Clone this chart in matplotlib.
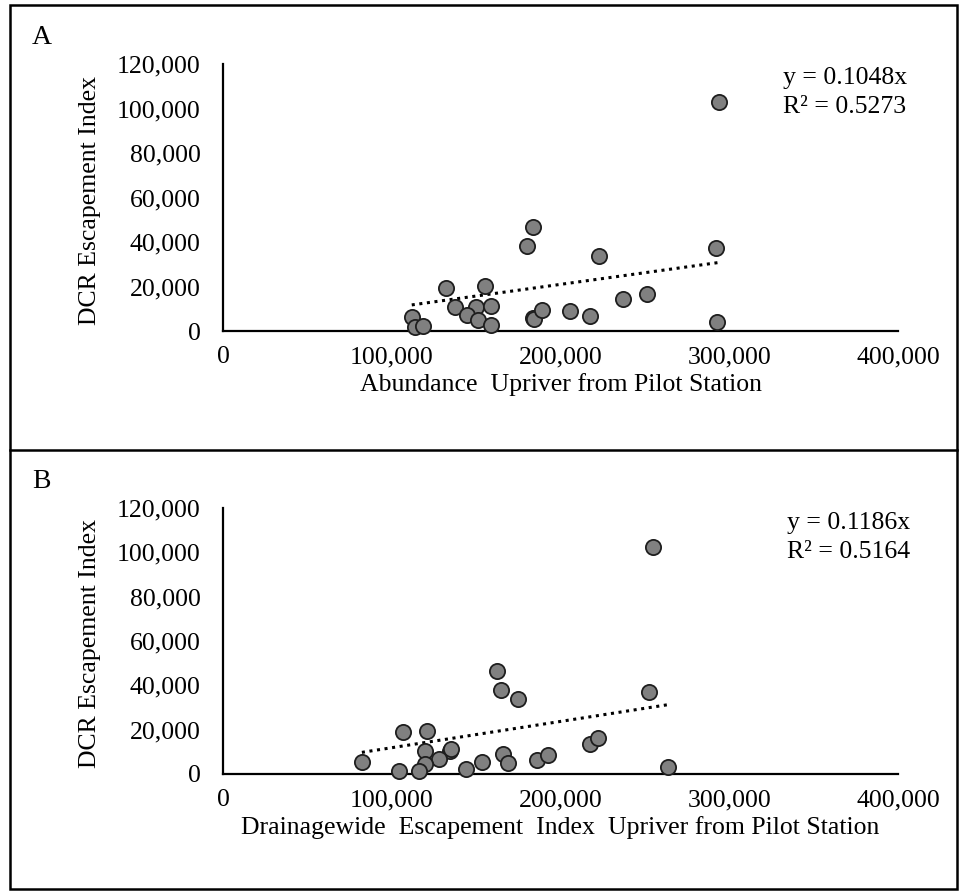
import numpy as np
import matplotlib
matplotlib.use("Agg")
import matplotlib.pyplot as plt
from matplotlib.ticker import FuncFormatter
from matplotlib.patches import Rectangle
from matplotlib.lines import Line2D

# --- datos ---
# Panel A: abundancia aguas arriba de Pilot Station vs indice DCR
abund_x = [183750, 180030, 222920, 132350, 154980, 137670, 149900, 158940,
           144340, 151260, 158940, 111850, 114030, 118760, 183580, 184350,
           188890, 205430, 217600, 236750, 251290, 294060, 291880, 292650]
abund_y = [46880, 38340, 33710, 19330, 20090, 10790, 10920, 11240,
           7060, 4810, 2700, 6290, 1660, 2110, 5980, 5390,
           9570, 8990, 6740, 14250, 16490, 102790, 37170, 3910]
slope_a = 0.1048
r2_a = 0.5273

# Panel B: indice de escape de toda la cuenca vs indice DCR
drain_x = [162480, 164670, 174710, 106530, 120710, 119530, 134530, 135300,
           127800, 119530, 115980, 104170, 82300, 143750, 153210, 166030,
           168800, 186110, 192790, 217610, 222330, 252470, 263930, 254830]
drain_y = [46460, 37890, 33830, 18810, 19400, 10240, 10510, 11140,
           6630, 4510, 1350, 1490, 5410, 2120, 5410, 9020,
           4960, 6180, 8430, 13530, 16100, 36850, 3290, 102530]
slope_b = 0.1186
r2_b = 0.5164

x_ticks = [0, 100000, 200000, 300000, 400000]
y_ticks = [0, 20000, 40000, 60000, 80000, 100000, 120000]

plt.rcParams["font.family"] = ["Liberation Serif", "DejaVu Serif"]

W, H = 960, 891
fig = plt.figure(figsize=(W / 100, H / 100), dpi=100)


def fx(px):
    return px / W


def fy(py):
    return 1 - py / H


fmt = FuncFormatter(lambda v, p: f"{v:,.0f}")


def panel(left, top, right, bottom, xs, ys, slope, r2, letter, xlabel, eq_x, eq_y):
    ax = fig.add_axes([fx(left), fy(bottom), fx(right) - fx(left), fy(top) - fy(bottom)])
    ax.scatter(xs, ys, s=120, facecolor="#808080", edgecolor="#1e1e1e",
               linewidth=1.3, zorder=3, clip_on=False)
    xl = np.array([min(xs), max(xs)])
    ax.plot(xl, slope * xl, color="black", linestyle=(0, (1, 1.5)),
            linewidth=2.2, zorder=2)
    ax.set_xlim(0, 400000)
    ax.set_ylim(0, 120000)
    ax.set_xticks(x_ticks)
    ax.set_yticks(y_ticks)
    ax.xaxis.set_major_formatter(fmt)
    ax.yaxis.set_major_formatter(fmt)
    ax.tick_params(length=0, labelsize=18.5)
    ax.tick_params(axis="y", pad=16)
    ax.tick_params(axis="x", pad=11)
    for s in ["top", "right"]:
        ax.spines[s].set_visible(False)
    for s in ["left", "bottom"]:
        ax.spines[s].set_linewidth(1.6)
        ax.spines[s].set_color("black")
    ax.set_xlabel(xlabel, fontsize=18.5)
    ax.set_ylabel("DCR Escapement Index", fontsize=18.5)
    ax.xaxis.label.set_va("center")
    ax.yaxis.label.set_va("center")
    ax.xaxis.set_label_coords(0.5, -(54) / (bottom - top))
    ax.yaxis.set_label_coords((90 - left) / (right - left), 0.49)
    fig.text(fx(32), fy(top - 27), letter, fontsize=20, va="center", ha="left")
    fig.text(fx(eq_x), fy(eq_y), f"y = {slope}x", fontsize=18.5, va="center", ha="left")
    fig.text(fx(eq_x), fy(eq_y + 29), f"R² = {r2}", fontsize=18.5, va="center", ha="left")
    return ax


panel(223, 64, 898, 331, abund_x, abund_y, slope_a, r2_a, "A",
      "Abundance  Upriver from Pilot Station", 783, 78)
panel(223, 508, 898, 774, drain_x, drain_y, slope_b, r2_b, "B",
      "Drainagewide  Escapement  Index  Upriver from Pilot Station", 787, 523)

# marco exterior y separador
fig.patches.append(Rectangle((fx(10), fy(889)), fx(957) - fx(10), fy(5) - fy(889),
                             transform=fig.transFigure, fill=False,
                             edgecolor="black", linewidth=1.8))
fig.lines.append(Line2D([fx(10), fx(957)], [fy(450), fy(450)],
                        transform=fig.transFigure, color="black", linewidth=1.8))

fig.savefig("out.png", dpi=100)
